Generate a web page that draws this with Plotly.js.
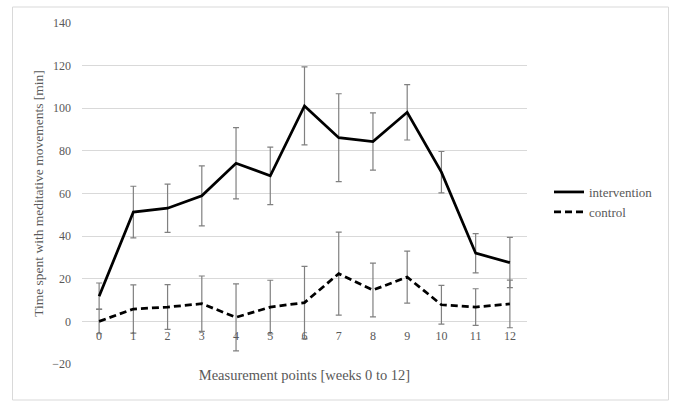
<!DOCTYPE html>
<html>
<head>
<meta charset="utf-8">
<script src="https://cdn.plot.ly/plotly-3.0.1.min.js"></script>
<style>
  html, body { margin: 0; padding: 0; background: #ffffff; }
  #chart { width: 674px; height: 401px; }
</style>
</head>
<body>
<div id="chart"></div>
<script>
// Measurement points (weeks)
const weeks = [0, 1, 2, 3, 4, 5, 6, 7, 8, 9, 10, 11, 12];
const tickLabels = ["0", "1", "2", "3", "4", "5", "6", "7", "8", "9", "10", "11", "12"];

// Intervention group: mean minutes and SD
const interventionMean = [11.8, 51.3, 53.1, 58.9, 74.2, 68.3, 101.1, 86.2, 84.4, 98.1, 70.0, 32.0, 27.6];
const interventionSD   = [6.2, 12.1, 11.3, 14.1, 16.7, 13.5, 18.3, 20.6, 13.4, 13.0, 9.7, 9.2, 11.8];

// Control group: mean minutes and SD
const controlMean = [0.0, 5.8, 6.7, 8.3, 1.9, 6.7, 8.8, 22.4, 14.7, 20.8, 7.8, 6.7, 8.2];
const controlSD   = [5.8, 11.3, 10.5, 13.0, 15.7, 12.6, 17.0, 19.5, 12.6, 12.2, 9.1, 8.6, 11.2];

const seriesNames = ["intervention", "control"];

const textGray = "#595959";
const gridGray = "#d9d9d9";
const errGray = "#808080";
const fontFam = "Liberation Serif";

const traces = [
  {
    x: weeks, y: interventionMean, name: seriesNames[0], type: "scatter", mode: "lines",
    line: { color: "#000000", width: 2.75 },
    error_y: { type: "data", array: interventionSD, visible: true, color: errGray, thickness: 1.2, width: 3 }
  },
  {
    x: weeks, y: controlMean, name: seriesNames[1], type: "scatter", mode: "lines",
    line: { color: "#000000", width: 2.75, dash: "7px,4px" },
    error_y: { type: "data", array: controlSD, visible: true, color: errGray, thickness: 1.2, width: 3 }
  }
];

// plot area pixel geometry: left 82, right 527, top 23, bottom 364
const L = 82, R = 527, T = 23, B = 364;
const pw = R - L, ph = B - T;
const px = v => (v - L) / pw;
const py = v => (B - v) / ph;

const layout = {
  width: 674, height: 401,
  margin: { l: L, r: 674 - R, t: T, b: 401 - B, pad: 0 },
  paper_bgcolor: "#ffffff", plot_bgcolor: "#ffffff",
  font: { family: fontFam, color: textGray, size: 12 },
  showlegend: true,
  legend: {
    x: px(549), xanchor: "left", y: py(177), yanchor: "top",
    font: { family: fontFam, size: 13, color: textGray },
    bgcolor: "rgba(0,0,0,0)", tracegroupgap: 0
  },
  xaxis: {
    range: [-0.5, 12.5],
    tickmode: "array", tickvals: weeks, ticktext: tickLabels,
    anchor: "free", position: 0.125,
    showgrid: false, zeroline: false, showline: false, ticks: "",
    ticklabelstandoff: 6,
    tickfont: { family: fontFam, size: 12, color: textGray },
    title: { text: "Measurement points [weeks 0 to 12]", standoff: 27,
             font: { family: fontFam, size: 14.5, color: textGray } }
  },
  yaxis: {
    range: [-20, 140], dtick: 20, tick0: 0,
    showgrid: true, gridcolor: gridGray, gridwidth: 1,
    zeroline: true, zerolinecolor: gridGray, zerolinewidth: 1,
    showline: false, ticks: "",
    ticklabelstandoff: 10,
    tickfont: { family: fontFam, size: 12, color: textGray },
    title: { text: "Time spent with meditative movements [min]", standoff: 5,
             font: { family: fontFam, size: 13.5, color: textGray } }
  },
  shapes: [
    { type: "rect", xref: "paper", yref: "paper",
      x0: px(12.5), x1: px(668.5), y0: py(400), y1: py(7),
      line: { color: gridGray, width: 1 }, fillcolor: "rgba(0,0,0,0)", layer: "below" }
  ]
};

Plotly.newPlot("chart", traces, layout, { displayModeBar: false, staticPlot: true });
</script>
</body>
</html>
